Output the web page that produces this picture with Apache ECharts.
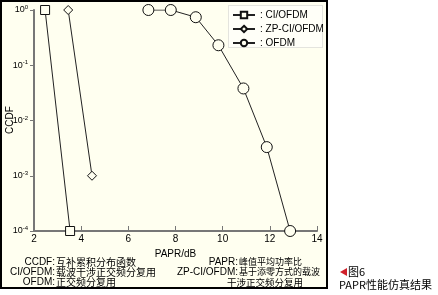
<!DOCTYPE html>
<html><head><meta charset="utf-8">
<script src="https://cdn.jsdelivr.net/npm/echarts@6/dist/echarts.min.js"></script>
<style>html,body{margin:0;padding:0;background:#fff;}#c{width:438px;height:295px;}</style>
</head><body><div id="c"></div>
<script>
var seriesNames = ['CI/OFDM', 'ZP-CI/OFDM', 'OFDM'];
var ciOfdm = [[2.47, 1], [3.53, 1e-4]];
var zpCiOfdm = [[3.45, 1], [4.46, 1e-3]];
var ofdm = [[6.85, 1], [7.8, 1], [8.86, 0.74], [9.82, 0.23], [10.88, 0.038], [11.87, 0.0033], [12.86, 1e-4]];
var xTicks = [2, 4, 6, 8, 10, 12, 14];
var yTickExps = ['0', '-1', '-2', '-3', '-4'];
var xName = 'PAPR/dB';
var yName = 'CCDF';
var notesLeft = [['CCDF', '互补累积分布函数'], ['CI/OFDM', '载波干涉正交频分复用'], ['OFDM', '正交频分复用']];
var notesRight = [['PAPR', '峰值平均功率比'], ['ZP-CI/OFDM', '基于添零方式的载波'], ['', '干涉正交频分复用']];
var captionLine1 = '图6';
var captionLine2 = 'PAPR性能仿真结果';

var cream = '#FFFFF0';
var font = '"Liberation Sans", Arial, sans-serif';
var cjk = '"Noto Sans CJK SC", sans-serif';
var chart = echarts.init(document.getElementById('c'));

var graphics = [
  {type: 'rect', z: -10, shape: {x: 1, y: 1, width: 326, height: 287}, style: {fill: cream, stroke: '#000', lineWidth: 2}},
  {type: 'rect', z: 1, shape: {x: 228.5, y: 5.5, width: 94, height: 42}, style: {fill: '#FFFFF8', stroke: '#c8c8c8', lineWidth: 1, lineDash: [1, 1]}},
  {type: 'text', x: 10, y: 120, rotation: Math.PI / 2, style: {text: yName, align: 'center', verticalAlign: 'middle', font: '10px ' + font, fill: '#000'}}
];
var lineY = [262, 272, 282];
notesLeft.forEach(function (n, i) {
  graphics.push({type: 'text', x: 55, y: lineY[i], style: {text: n[0] + ':', align: 'right', verticalAlign: 'middle', font: '10px ' + font, fill: '#000'}});
  graphics.push({type: 'text', x: 56, y: lineY[i], style: {text: n[1], align: 'left', verticalAlign: 'middle', font: '10px ' + cjk, fill: '#000'}});
});
notesRight.forEach(function (n, i) {
  if (n[0]) {
    graphics.push({type: 'text', x: 238, y: lineY[i], style: {text: n[0] + ':', align: 'right', verticalAlign: 'middle', font: '10px ' + font, fill: '#000'}});
    graphics.push({type: 'text', x: 239, y: lineY[i], style: {text: n[1], align: 'left', verticalAlign: 'middle', font: '9px ' + cjk, fill: '#000'}});
  } else {
    graphics.push({type: 'text', x: 227, y: lineY[i], style: {text: n[1], align: 'left', verticalAlign: 'middle', font: '9.5px ' + cjk, fill: '#000'}});
  }
});
graphics.push({type: 'polygon', shape: {points: [[340, 272], [347, 268], [347, 276]]}, style: {fill: '#d0202a'}});
graphics.push({type: 'text', x: 348, y: 272, style: {text: captionLine1, verticalAlign: 'middle', font: '11px ' + cjk, fill: '#000'}});
graphics.push({type: 'text', x: 339, y: 285, style: {text: captionLine2, verticalAlign: 'middle', font: '11px ' + cjk, fill: '#000'}});

var symStyle = {color: cream, borderColor: '#111', borderWidth: 1};
function mk(name, data, sym, size) {
  return {name: name, type: 'line', data: data, symbol: sym, symbolSize: size, showAllSymbol: true,
    lineStyle: {color: '#222', width: 1}, itemStyle: symStyle, z: 3};
}

chart.setOption({
  animation: false,
  backgroundColor: '#fff',
  grid: {left: 34, right: 121, top: 10, bottom: 64, containLabel: false, outerBoundsMode: 'none'},
  legend: {
    orient: 'vertical', left: 230, top: 8, itemWidth: 22, itemHeight: 8, itemGap: 4, padding: [2, 2],
    data: seriesNames, formatter: function (n) { return ': ' + n; },
    textStyle: {fontFamily: font, fontSize: 10, color: '#000'}, inactiveColor: '#000'
  },
  xAxis: {
    type: 'value', min: 2, max: 14, interval: 2,
    name: xName, nameLocation: 'middle', nameGap: 16,
    nameTextStyle: {fontFamily: font, fontSize: 10, color: '#000'},
    axisLine: {show: true, lineStyle: {color: '#777', width: 2}},
    axisTick: {show: true, inside: true, length: 5, lineStyle: {color: '#777', width: 1}},
    axisLabel: {fontFamily: font, fontSize: 10, color: '#000', margin: 3,
      formatter: function (v) { return xTicks.indexOf(v) >= 0 ? String(v) : ''; }},
    splitLine: {show: false}
  },
  yAxis: {
    type: 'log', logBase: 10, min: 1e-4, max: 1,
    axisLine: {show: true, lineStyle: {color: '#777', width: 2}},
    axisTick: {show: true, inside: false, length: 4, lineStyle: {color: '#777', width: 1}},
    axisLabel: {margin: 6, formatter: function (v) {
        var e = Math.round(Math.log10(v));
        var idx = yTickExps.indexOf(String(e));
        if (idx < 0) return '';
        return '{b|10}{s|' + yTickExps[idx] + '}';
      },
      rich: {b: {fontFamily: font, fontSize: 9, color: '#000'}, s: {fontFamily: font, fontSize: 6, color: '#000', verticalAlign: 'top', padding: [0, 0, 5, 0]}}},
    splitLine: {show: false}
  },
  series: [
    mk(seriesNames[0], ciOfdm, 'rect', 9),
    mk(seriesNames[1], zpCiOfdm, 'diamond', 9),
    mk(seriesNames[2], ofdm, 'circle', 11)
  ],
  graphic: graphics
});
</script></body></html>
